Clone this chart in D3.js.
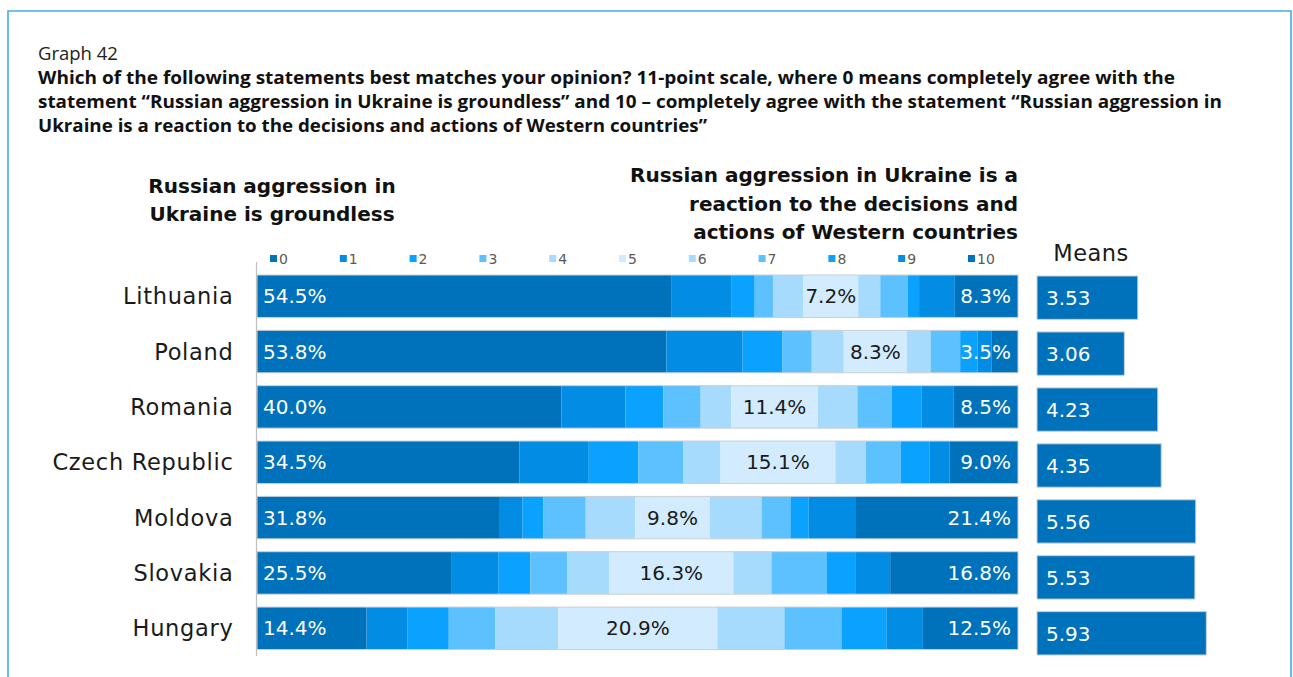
<!DOCTYPE html>
<html>
<head>
<meta charset="utf-8">
<script src="https://cdn.jsdelivr.net/npm/d3@7/dist/d3.min.js"></script>
<style>
  html, body { margin: 0; padding: 0; background: #fff; }
  svg { display: block; }
</style>
</head>
<body>
<svg id="chart" width="1293" height="677"></svg>
<script>
// Survey answers on an 11-point scale, share of respondents (%) per country
const countries = ["Lithuania", "Poland", "Romania", "Czech Republic", "Moldova", "Slovakia", "Hungary"];
const scaleKeys = ["0", "1", "2", "3", "4", "5", "6", "7", "8", "9", "10"];

const lithuania     = [54.5, 7.8, 3.1, 2.4, 4.0, 7.2, 2.9, 3.6, 1.5, 4.7, 8.3];
const poland        = [53.8, 10.0, 5.2, 3.9, 4.2, 8.3, 3.1, 3.9, 2.3, 1.8, 3.5];
const romania       = [40.0, 8.4, 5.0, 4.9, 4.0, 11.4, 5.2, 4.5, 3.9, 4.2, 8.5];
const czechRepublic = [34.5, 9.1, 6.5, 5.9, 4.9, 15.1, 4.0, 4.6, 3.8, 2.6, 9.0];
const moldova       = [31.8, 3.1, 2.7, 5.6, 6.5, 9.8, 6.8, 3.8, 2.4, 6.1, 21.4];
const slovakia      = [25.5, 6.2, 4.2, 4.9, 5.5, 16.3, 5.0, 7.3, 3.8, 4.5, 16.8];
const hungary       = [14.4, 5.4, 5.4, 6.1, 8.3, 20.9, 8.8, 7.5, 5.9, 4.8, 12.5];

// Mean score per country
const means = [3.53, 3.06, 4.23, 4.35, 5.56, 5.53, 5.93];

const shareRows = [lithuania, poland, romania, czechRepublic, moldova, slovakia, hungary];
const palette = ["#0071bb", "#038ce3", "#0ba1fe", "#5dc1ff", "#a7dbfe", "#d2ebfe",
                 "#a7dbfe", "#5dc1ff", "#0ba1fe", "#038ce3", "#0071bb"];

const table = countries.map((c, i) => {
  const row = { country: c };
  scaleKeys.forEach((k, j) => { row[k] = shareRows[i][j]; });
  return row;
});

const svg = d3.select("#chart");
const bodyFont = "'DejaVu Sans', sans-serif";
const titleFont = "'Open Sans', sans-serif";

// Outer frame
svg.append("path")
  .attr("d", "M8,690 L8,11 L1291,11 L1291,690")
  .attr("fill", "none")
  .attr("stroke", "#47ade4")
  .attr("stroke-width", 1.6);

// Title block
svg.append("text")
  .attr("x", 38).attr("y", 60)
  .attr("font-family", titleFont).attr("font-size", 18.5)
  .attr("fill", "#222")
  .text("Graph 42");

const titleLines = [
  { text: "Which of the following statements best matches your opinion? 11-point scale, where 0 means completely agree with the", width: 1137 },
  { text: "statement \u201cRussian aggression in Ukraine is groundless\u201d and 10 \u2013 completely agree with the statement \u201cRussian aggression in", width: 1184 },
  { text: "Ukraine is a reaction to the decisions and actions of Western countries\u201d", width: 669 }
];
svg.append("g").selectAll("text").data(titleLines).join("text")
  .attr("x", 38).attr("y", (d, i) => 84 + i * 24)
  .attr("font-family", titleFont).attr("font-size", 17.5).attr("font-weight", 700)
  .attr("fill", "#111")
  .attr("textLength", d => d.width)
  .attr("lengthAdjust", "spacingAndGlyphs")
  .text(d => d.text);

// Scales
const x = d3.scaleLinear().domain([0, 100]).range([257, 1018]);
const y = d3.scaleBand().domain(countries).range([275, 649.5]).paddingInner(0.233).paddingOuter(0);
const xm = d3.scaleLinear().domain([0, 10]).range([1037, 1322.5]);
const ym = d3.scaleBand().domain(countries).range([276, 655]).paddingInner(0.225).paddingOuter(0);

const stacked = d3.stack().keys(scaleKeys)(table);

// Pole headings
const leftHead = ["Russian aggression in", "Ukraine is groundless"];
svg.append("g").selectAll("text").data(leftHead).join("text")
  .attr("x", 272).attr("y", (d, i) => 193 + i * 28)
  .attr("text-anchor", "middle")
  .attr("font-family", bodyFont).attr("font-size", 20).attr("font-weight", 700)
  .attr("fill", "#111")
  .text(d => d);

const rightHead = ["Russian aggression in Ukraine is a", "reaction to the decisions and", "actions of Western countries"];
svg.append("g").selectAll("text").data(rightHead).join("text")
  .attr("x", 1018).attr("y", (d, i) => 182 + i * 28.5)
  .attr("text-anchor", "end")
  .attr("font-family", bodyFont).attr("font-size", 20).attr("font-weight", 700)
  .attr("fill", "#111")
  .text(d => d);

// Legend
const legend = svg.append("g").selectAll("g").data(scaleKeys).join("g")
  .attr("transform", (d, i) => `translate(${270 + i * 69.8},259)`);
legend.append("rect")
  .attr("x", 0).attr("y", -4).attr("width", 7).attr("height", 7)
  .attr("fill", (d, i) => palette[i]);
legend.append("text")
  .attr("x", 9).attr("y", 5)
  .attr("font-family", bodyFont).attr("font-size", 14)
  .attr("fill", "#595959")
  .text(d => d);

// Stacked bars
const layers = svg.append("g").selectAll("g").data(stacked).join("g")
  .attr("fill", (d, i) => palette[i]);
layers.selectAll("rect").data(d => d).join("rect")
  .attr("x", d => x(d[0]))
  .attr("y", d => y(d.data.country))
  .attr("width", d => x(d[1]) - x(d[0]))
  .attr("height", y.bandwidth());

// Thin outline around each bar
svg.append("g").selectAll("rect").data(countries).join("rect")
  .attr("x", x(0)).attr("y", d => y(d))
  .attr("width", x(100) - x(0)).attr("height", y.bandwidth())
  .attr("fill", "none").attr("stroke", "#c9cfd4").attr("stroke-width", 1);

// Category axis
const yAxis = svg.append("g")
  .attr("transform", `translate(${x(0) - 0.5},0)`)
  .call(d3.axisLeft(y).tickSize(0).tickPadding(23));
yAxis.select(".domain").attr("stroke", "#bfbfbf").attr("stroke-width", 1.2)
  .attr("d", `M0,262V656`);
yAxis.selectAll("text")
  .attr("font-family", bodyFont).attr("font-size", 22.5).attr("fill", "#1a1a1a")
  .attr("letter-spacing", 0.7)
  .attr("dy", "0.36em");

// Value labels: score 0, score 5 and score 10
const fmt = d => d3.format(".1f")(d) + "%";
const lbl = svg.append("g").attr("font-family", bodyFont).attr("font-size", 20);
lbl.selectAll("text.l0").data(stacked[0]).join("text").attr("class", "l0")
  .attr("x", d => x(d[0]) + 6)
  .attr("y", d => y(d.data.country) + y.bandwidth() / 2)
  .attr("dy", "0.36em").attr("fill", "#fff")
  .text(d => fmt(d[1] - d[0]));
lbl.selectAll("text.l5").data(stacked[5]).join("text").attr("class", "l5")
  .attr("x", d => (x(d[0]) + x(d[1])) / 2)
  .attr("y", d => y(d.data.country) + y.bandwidth() / 2)
  .attr("dy", "0.36em").attr("text-anchor", "middle").attr("fill", "#1a1a1a")
  .text(d => fmt(d[1] - d[0]));
lbl.selectAll("text.l10").data(stacked[10]).join("text").attr("class", "l10")
  .attr("x", d => x(d[1]) - 7)
  .attr("y", d => y(d.data.country) + y.bandwidth() / 2)
  .attr("dy", "0.36em").attr("text-anchor", "end").attr("fill", "#fff")
  .text(d => fmt(d[1] - d[0]));

// Means panel
svg.append("text")
  .attr("x", 1091).attr("y", 261)
  .attr("text-anchor", "middle")
  .attr("font-family", bodyFont).attr("font-size", 22.5)
  .attr("letter-spacing", 0.5)
  .attr("fill", "#1a1a1a")
  .text("Means");

svg.append("g").selectAll("rect").data(means).join("rect")
  .attr("x", xm(0))
  .attr("y", (d, i) => ym(countries[i]))
  .attr("width", d => xm(d) - xm(0))
  .attr("height", ym.bandwidth())
  .attr("fill", palette[0])
  .attr("stroke", "#c9cfd4").attr("stroke-width", 1);

svg.append("g").selectAll("text").data(means).join("text")
  .attr("x", xm(0) + 9)
  .attr("y", (d, i) => ym(countries[i]) + ym.bandwidth() / 2)
  .attr("dy", "0.36em")
  .attr("font-family", bodyFont).attr("font-size", 20)
  .attr("fill", "#fff")
  .text(d => d3.format(".2f")(d));
</script>
</body>
</html>
